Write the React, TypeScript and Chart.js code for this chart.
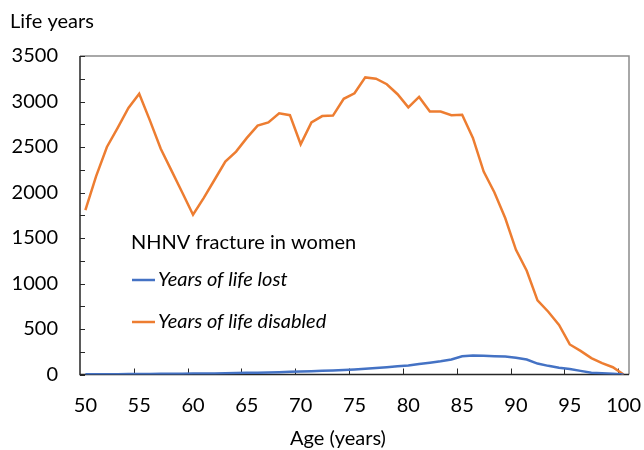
import React, { useEffect, useRef } from 'react';
import { Chart, registerables } from 'chart.js';

Chart.register(...registerables);

const ages: string[] = [
  '50', '51', '52', '53', '54', '55', '56', '57', '58', '59',
  '60', '61', '62', '63', '64', '65', '66', '67', '68', '69',
  '70', '71', '72', '73', '74', '75', '76', '77', '78', '79',
  '80', '81', '82', '83', '84', '85', '86', '87', '88', '89',
  '90', '91', '92', '93', '94', '95', '96', '97', '98', '99', '100',
];

const yearsOfLifeLost: number[] = [
  3, 3, 4, 4, 5, 5, 6, 7, 8, 9,
  10, 11, 12, 14, 16, 18, 20, 23, 26, 29,
  32, 36, 40, 45, 50, 56, 63, 71, 80, 90,
  100, 115, 130, 145, 165, 200, 210, 205, 200, 197,
  185, 165, 120, 95, 75, 60, 40, 20, 15, 8, 0,
];

const yearsOfLifeDisabled: number[] = [
  1805, 2180, 2500, 2710, 2930, 3085, 2790, 2480, 2240, 2000,
  1755, 1940, 2140, 2340, 2450, 2600, 2735, 2770, 2870, 2850,
  2530, 2770, 2840, 2845, 3030, 3090, 3265, 3250, 3190, 3080,
  2935, 3050, 2890, 2890, 2850, 2855, 2600, 2230, 2000, 1720,
  1370, 1140, 815, 690, 545, 330, 260, 180, 125, 80, 0,
];

const seriesLabels: string[] = ['Years of life lost', 'Years of life disabled'];
const seriesColors: string[] = ['#4472C4', '#ED7D31'];
const legendTitle = 'NHNV fracture in women';
const yAxisTitle = 'Life years';
const xAxisTitle = 'Age (years)';
const yMin = 0;
const yMax = 3500;
const yLabelStep = 500;
const yTickStep = 250;
const xTickEvery = 5;

const FONT = 'Lato, "Open Sans", sans-serif';
const FONT_SIZE = 20;

const framePlugin = {
  id: 'frame',
  beforeDatasetsDraw(chart: any) {
    const { ctx, chartArea } = chart;
    const { left, right, top, bottom } = chartArea;
    ctx.save();
    ctx.strokeStyle = '#8c8c8c';
    ctx.lineWidth = 1.5;
    ctx.beginPath();
    ctx.moveTo(left, top);
    ctx.lineTo(right, top);
    ctx.lineTo(right, bottom);
    ctx.stroke();
    ctx.strokeStyle = '#262626';
    ctx.lineWidth = 1.5;
    ctx.beginPath();
    ctx.moveTo(left, top);
    ctx.lineTo(left, bottom);
    ctx.lineTo(right, bottom);
    ctx.stroke();
    const yScale = chart.scales.y;
    ctx.lineWidth = 1;
    ctx.beginPath();
    for (let v = yMin; v <= yMax; v += yTickStep) {
      const py = Math.round(yScale.getPixelForValue(v)) + 0.5;
      ctx.moveTo(left, py);
      ctx.lineTo(left + 5, py);
    }
    ctx.stroke();
    const xScale = chart.scales.x;
    const catW = (right - left) / ages.length;
    ctx.beginPath();
    for (let i = xTickEvery; i < ages.length; i += xTickEvery) {
      const px = Math.round(xScale.getPixelForValue(i) - catW / 2) + 0.5;
      ctx.moveTo(px, bottom);
      ctx.lineTo(px, bottom - 6);
    }
    ctx.stroke();
    ctx.restore();
  },
  afterDraw(chart: any) {
    const { ctx, chartArea } = chart;
    const { left } = chartArea;
    ctx.save();
    ctx.fillStyle = '#000';
    ctx.textBaseline = 'middle';
    ctx.font = `${FONT_SIZE}px ${FONT}`;
    ctx.textAlign = 'left';
    ctx.fillText(yAxisTitle, 10, 22);
    ctx.textAlign = 'center';
    ctx.fillText(xAxisTitle, 338, 439);
    ctx.textAlign = 'left';
    const lx = left + 51;
    ctx.fillText(legendTitle, lx, 243);
    const rows = [280, 322];
    chart.data.datasets.forEach((ds: any, i: number) => {
      const y = rows[i];
      ctx.strokeStyle = ds.borderColor;
      ctx.lineWidth = 2.5;
      ctx.beginPath();
      ctx.moveTo(lx + 1, y);
      ctx.lineTo(lx + 24, y);
      ctx.stroke();
      ctx.font = `italic ${FONT_SIZE}px ${FONT}`;
      ctx.fillStyle = '#000';
      ctx.fillText(ds.label, lx + 27, y);
    });
    ctx.restore();
  },
};

export default function App() {
  const canvasRef = useRef<HTMLCanvasElement | null>(null);

  useEffect(() => {
    if (!canvasRef.current) return;
    const chart = new Chart(canvasRef.current, {
      type: 'line',
      data: {
        labels: ages,
        datasets: [
          {
            label: seriesLabels[0],
            data: yearsOfLifeLost,
            borderColor: seriesColors[0],
            backgroundColor: seriesColors[0],
            borderWidth: 2.5,
            pointRadius: 0,
            tension: 0,
          },
          {
            label: seriesLabels[1],
            data: yearsOfLifeDisabled,
            borderColor: seriesColors[1],
            backgroundColor: seriesColors[1],
            borderWidth: 2.5,
            pointRadius: 0,
            tension: 0,
          },
        ],
      },
      options: {
        animation: false,
        responsive: false,
        maintainAspectRatio: false,
        layout: { padding: { top: 56, right: 15, left: 0, bottom: 0 } },
        plugins: {
          legend: { display: false },
          title: { display: false },
          tooltip: { enabled: false },
        },
        scales: {
          x: {
            type: 'category',
            offset: true,
            grid: { display: false, drawTicks: false },
            border: { display: false },
            ticks: {
              autoSkip: false,
              maxRotation: 0,
              minRotation: 0,
              padding: 19,
              color: '#000',
              font: { family: FONT, size: FONT_SIZE },
              callback: (_v: any, i: number) =>
                Number(ages[i]) % xTickEvery === 0 ? ages[i] : '',
            },
            afterFit: (s: any) => {
              s.height = 75.5;
              s.paddingLeft = 0;
              s.paddingRight = 0;
            },
          },
          y: {
            min: yMin,
            max: yMax,
            grid: { display: false, drawTicks: false },
            border: { display: false },
            ticks: {
              stepSize: yLabelStep,
              padding: 22,
              color: '#000',
              font: { family: FONT, size: FONT_SIZE },
              callback: (v: any) => String(v),
            },
            afterFit: (s: any) => {
              s.width = 80;
            },
          },
        },
      },
      plugins: [framePlugin],
    });
    return () => chart.destroy();
  }, []);

  return (
    <div style={{ position: 'fixed', left: 0, top: 0, width: 644, height: 450, background: '#fff' }}>
      <canvas ref={canvasRef} width={644} height={450} style={{ width: 644, height: 450 }} />
    </div>
  );
}
